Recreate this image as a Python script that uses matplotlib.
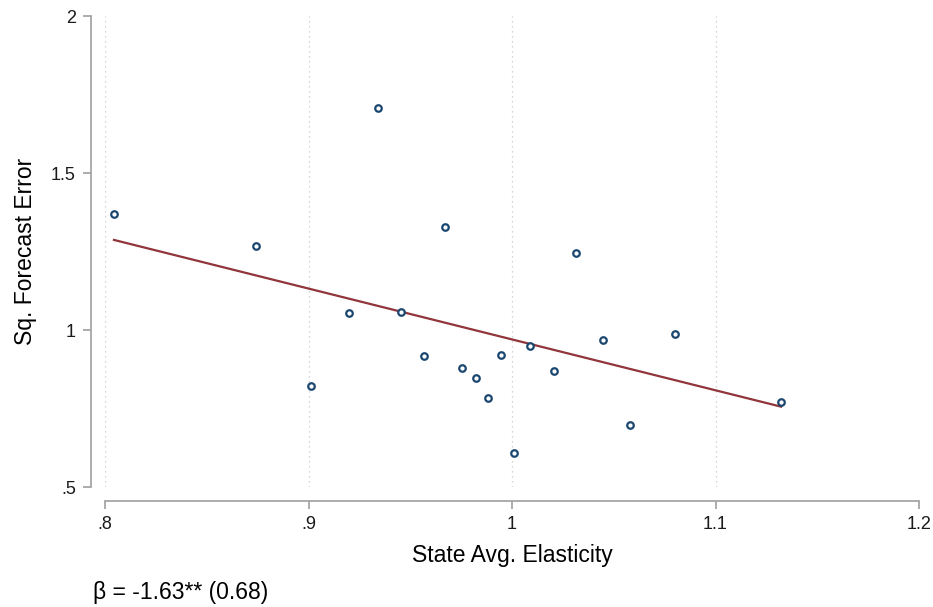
import numpy as np
import matplotlib
matplotlib.use("Agg")
import matplotlib.pyplot as plt

# valores
elasticity = [0.8044, 0.8742, 0.9010, 0.9199, 0.9342, 0.9455, 0.9568, 0.9671,
              0.9755, 0.9823, 0.9882, 0.9946, 1.0010, 1.0088, 1.0206, 1.0314,
              1.0447, 1.0580, 1.0801, 1.1322]
sq_error = [1.369, 1.268, 0.822, 1.054, 1.707, 1.057, 0.917, 1.328,
            0.879, 0.847, 0.783, 0.920, 0.608, 0.949, 0.869, 1.245,
            0.968, 0.697, 0.987, 0.771]
# recta de ajuste (pendiente ~ beta reportado)
fit_slope = -1.62
fit_intercept = 2.590
x_ticks = [0.8, 0.9, 1.0, 1.1, 1.2]
x_ticklabels = [".8", ".9", "1", "1.1", "1.2"]
y_ticks = [0.5, 1.0, 1.5, 2.0]
y_ticklabels = [".5", "1", "1.5", "2"]
beta_text = "β = -1.63** (0.68)"

plt.rcParams["font.family"] = ["Liberation Sans", "DejaVu Sans"]

fig = plt.figure(figsize=(9.33, 6.07), dpi=100)
ax = fig.add_axes([105 / 933, 1 - 487 / 607, (919 - 105) / 933, (487 - 16) / 607])

gray = "#a6a6a6"
for g in x_ticks[:-1]:
    ax.axvline(g, color="#c8c8c8", linestyle=(0, (1, 3)), linewidth=0.9, zorder=0)

ax.scatter(elasticity, sq_error, s=22, facecolors="white", edgecolors="#1a476f",
           linewidths=1.6, zorder=3)

x = np.array(elasticity)
xs = np.array([x.min(), x.max()])
ax.plot(xs, fit_intercept + fit_slope * xs, color="#90353b", linewidth=1.6, zorder=2)

ax.set_xlim(0.8, 1.2)
ax.set_ylim(0.5, 2.0)
ax.set_xticks(x_ticks)
ax.set_xticklabels(x_ticklabels)
ax.set_yticks(y_ticks)
ax.set_yticklabels(y_ticklabels)

for side in ["top", "right"]:
    ax.spines[side].set_visible(False)
for side in ["left", "bottom"]:
    ax.spines[side].set_position(("outward", 10))
    ax.spines[side].set_color(gray)
    ax.spines[side].set_linewidth(1.3)
ax.tick_params(axis="both", colors=gray, width=1.3, length=6, labelsize=13,
               labelcolor="#1a1a1a", pad=5)

ax.set_xlabel("State Avg. Elasticity", fontsize=16.5, labelpad=8)
ax.set_ylabel("Sq. Forecast Error", fontsize=16.5, labelpad=10)

fig.text(93 / 933, 1 - 592 / 607, beta_text, fontsize=16.5, va="center", ha="left")

fig.savefig("out.png", dpi=100, facecolor="white")
